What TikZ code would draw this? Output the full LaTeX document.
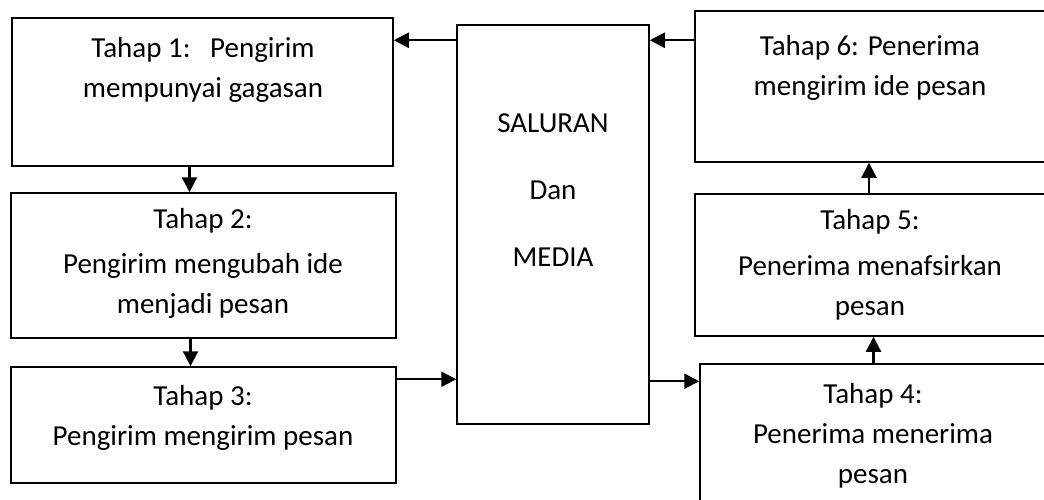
\documentclass[tikz,border=0pt]{standalone}
\usepackage{fontspec}
\setmainfont{Carlito}
\usetikzlibrary{arrows.meta}
\begin{document}
\begin{tikzpicture}[x=1pt,y=-1pt,
    kotak/.style={draw,line width=1.5pt,rectangle,inner sep=0pt},
    teks/.style={anchor=base,align=center,inner sep=0pt,font=\fontsize{29}{40}\selectfont},
    panah/.style={line width=2.2pt,-{Triangle[length=15pt,width=15pt]}}]
    \path[use as bounding box,clip] (0,0) rectangle (1044,500);
    % kotak-kotak
    \node[kotak,minimum width=381pt,minimum height=148pt] (b1) at (202.5,92) {};
    \node[kotak,minimum width=385pt,minimum height=145pt] (b2) at (203.5,265.5) {};
    \node[kotak,minimum width=385pt,minimum height=116pt] (b3) at (203.5,425) {};
    \node[kotak,minimum width=192pt,minimum height=399pt] (media) at (553,224.5) {};
    \node[kotak,minimum width=352pt,minimum height=151pt] (b6) at (871,86.5) {};
    \node[kotak,minimum width=352pt,minimum height=142pt] (b5) at (871,265) {};
    \node[kotak,minimum width=347pt,minimum height=156pt] (b4) at (873.5,442) {};
    % tulisan (titik = garis dasar baris terakhir)
    \node[teks] (t1) at (203,98) {Tahap 1:\ \ \ Pengirim\\mempunyai gagasan};
    \node[teks] (t2) at (203,313) {Tahap 2:\\[5pt]Pengirim mengubah ide\\menjadi pesan};
    \node[teks] (t3) at (203,445) {Tahap 3:\\Pengirim mengirim pesan};
    \node[teks,font=\fontsize{29}{67}\selectfont] (tm) at (553,266) {SALURAN\\Dan\\MEDIA};
    \node[teks] (t6) at (870,96) {Tahap 6: Penerima\\mengirim ide pesan};
    \node[teks] (t5) at (870,315) {Tahap 5:\\[6pt]Penerima menafsirkan\\pesan};
    \node[teks] (t4) at (873,483) {Tahap 4:\\Penerima menerima\\pesan};
    % panah
    \draw[panah] ([yshift=-16pt]media.north west) -- ([yshift=-16pt]media.north west -| b1.east);
    \draw[panah] ([yshift=-30pt]b6.north west) -- ([yshift=-30pt]b6.north west -| media.east);
    \draw[panah] ([xshift=-13pt]b1.south) -- ([xshift=-13pt]b1.south |- b2.north);
    \draw[panah] ([xshift=-13pt]b2.south) -- ([xshift=-13pt]b2.south |- b3.north);
    \draw[panah] ([yshift=-13pt]b3.north east) -- ([yshift=-13pt]b3.north east -| media.west);
    \draw[panah] ([yshift=-18pt]b4.north west -| media.east) -- ([yshift=-18pt]b4.north west);
    \draw[panah] (b4.north) -- (b4.north |- b5.south);
    \draw[panah] ([xshift=-2pt]b5.north) -- ([xshift=-2pt]b5.north |- b6.south);
\end{tikzpicture}
\end{document}
